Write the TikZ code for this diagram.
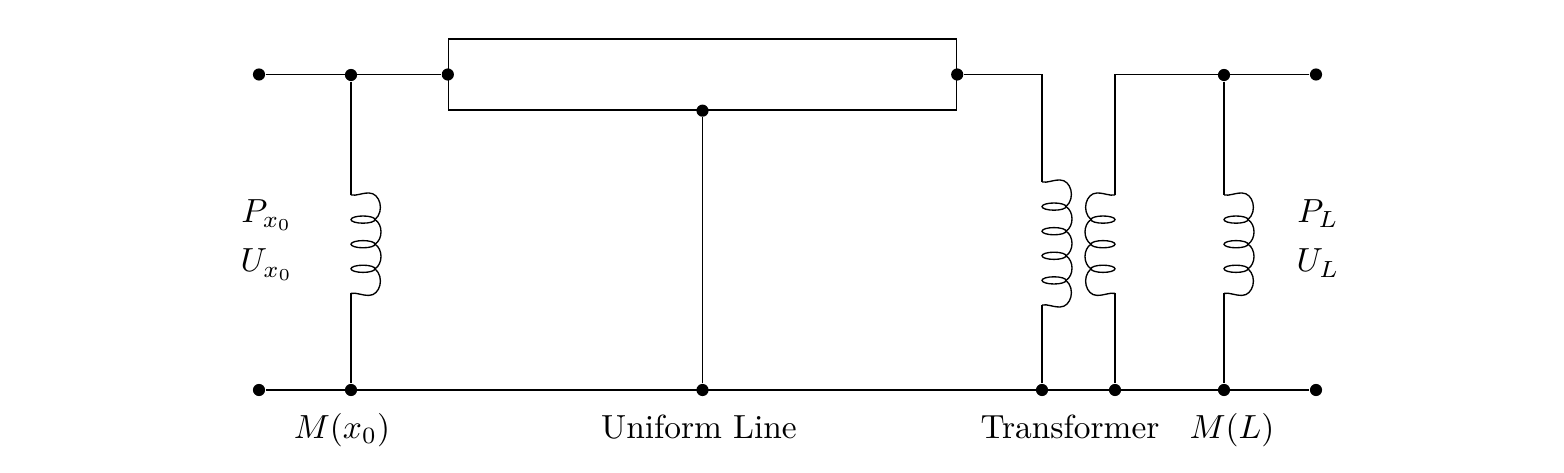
\documentclass[tikz,border=0pt]{standalone}
\usepackage{xcolor}
\usepackage{tikz}
\usetikzlibrary{positioning}

\tikzset{
    dot/.style={circle, fill=black, inner sep=0pt, minimum size=3.6pt},
    label text/.style={inner sep=0pt, anchor=base, scale=0.99},
    pics/coil/.style={code={
        \draw (0,0) coordinate (-top) .. controls (6,1) and (10,-2) .. (18,-2)
            .. controls (29,-2) and (34,16) .. (24,24.6);
        \foreach \k in {1,...,#1}{
            \draw (12,{24.6*\k}) ellipse [x radius=12, y radius=3.6];
        }
        \pgfmathtruncatemacro{\last}{#1-1}
        \foreach \k in {1,...,\last}{
            \draw (24,{24.6*\k}) .. controls (32,{24.6*\k+5}) and (32,{24.6*\k+19.6}) .. (24,{24.6*\k+24.6});
        }
        \path (0,{24.6*(#1+1)}) coordinate (-bot);
        \draw (24,{24.6*#1}) .. controls (34,{24.6*#1+8.6}) and (29,{24.6*#1+26.6}) .. (18,{24.6*#1+26.6})
            .. controls (10,{24.6*#1+26.6}) and (6,{24.6*#1+23.6}) .. (-bot);
    }}
}

\begin{document}
\begin{tikzpicture}[x=0.0104cm, y=-0.0104cm]
\useasboundingbox (0,0) rectangle (1564,473);

% uniform line
\node[draw, rectangle, minimum width=508*0.0104cm, minimum height=71*0.0104cm, inner sep=0pt] (line) at (702.5,74.5) {};

% terminals and junctions
\node[dot] (topl) at (259,74.5) {};
\node[dot] (topa) at (351,75) {};
\node[dot] (west) at (line.west) {};
\node[dot] (east) at (line.east) {};
\node[dot] (south) at (line.south) {};
\node[dot] (topb) at (1224,75) {};
\node[dot] (topr) at (1316,74.5) {};
\node[dot] (botl) at (259,390) {};
\node[dot] (bota) at (351,390) {};
\node[dot] (botm) at (702.5,390) {};
\node[dot] (botp) at (1042,390) {};
\node[dot] (bots) at (1115,390) {};
\node[dot] (botb) at (1224,390) {};
\node[dot] (botr) at (1316,390) {};

% coils
\pic (cx) at (351,195) {coil=3};
\pic (cp) at (1042,182) {coil=4};
\pic[xscale=-1] (cs) at (1115,195) {coil=3};
\pic (cl) at (1224,195) {coil=3};

\coordinate (cornerp) at (1042,74.5);
\coordinate (corners) at (1115,74.5);

\draw (topl) -- (west);
\draw (topa) -- (cx-top);
\draw (cx-bot) -- (bota);
\draw (south) -- (botm);
\draw (east) -- (cornerp) -- (cp-top);
\draw (cp-bot) -- (botp);
\draw (cs-top) -- (corners) -- (topr);
\draw (cs-bot) -- (bots);
\draw (topb) -- (cl-top);
\draw (cl-bot) -- (botb);
\draw (botl) -- (botr);

% labels
\node[label text] (px) at (267,222.5) {$P_{x_0}$};
\node[label text] (ux) at (267,272) {$U_{x_0}$};
\node[label text] (pl) at (1318,222.5) {$P_L$};
\node[label text] (ul) at (1318,272) {$U_L$};
\node[label text] (mx) at (342,438.5) {$M(x_0)$};
\node[label text] (uni) at (699,438.5) {Uniform Line};
\node[label text] (tr) at (1070,438.5) {Transformer};
\node[label text] (ml) at (1232,438.5) {$M(L)$};
\end{tikzpicture}
\end{document}
